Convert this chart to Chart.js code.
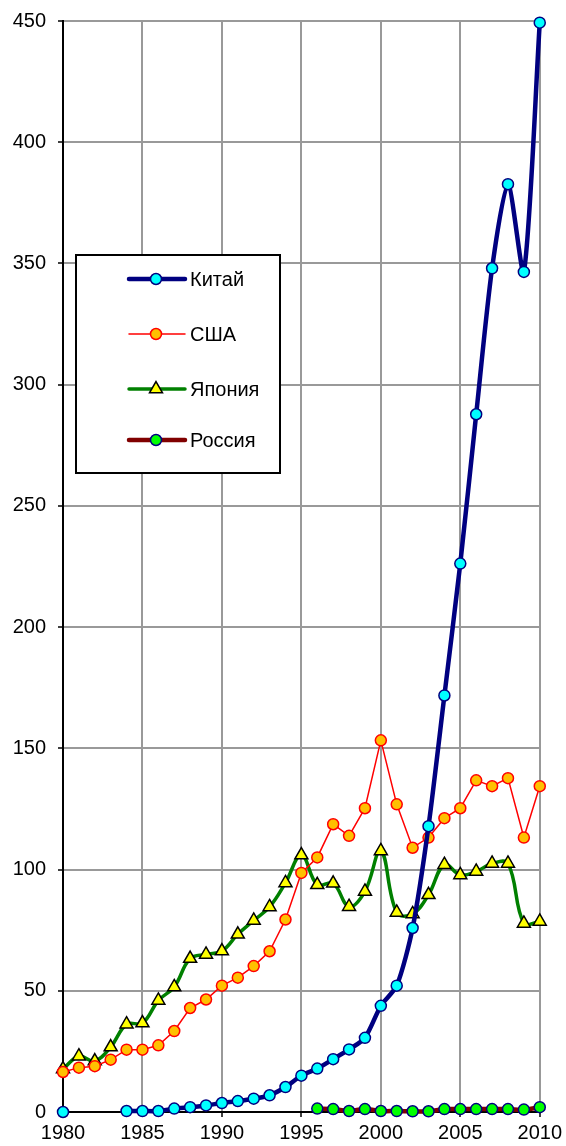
<!DOCTYPE html>
<html lang="ru">
<head>
    <meta charset="UTF-8">
    <title>Chart</title>
    <style>
        body { margin: 0; background: #fff; }
        #wrap { width: 566px; height: 1146px; }
    </style>
</head>
<body>
    <div id="wrap">
        <canvas id="chart" width="566" height="1146"></canvas>
    </div>

    <script src="https://cdn.jsdelivr.net/npm/chart.js"></script>
<script>
    const years = [1980, 1981, 1982, 1983, 1984, 1985, 1986, 1987, 1988, 1989,
                   1990, 1991, 1992, 1993, 1994, 1995, 1996, 1997, 1998, 1999,
                   2000, 2001, 2002, 2003, 2004, 2005, 2006, 2007, 2008, 2009, 2010];

    const china = [0, null, null, null, 0.4, 0.4, 0.4, 1.4, 2, 2.7,
                   3.7, 4.5, 5.5, 6.9, 10.3, 15, 17.9, 21.8, 25.8, 30.6,
                   43.8, 52.1, 75.9, 117.9, 171.8, 226.2, 287.8, 348, 382.7, 346.5, 449.3];

    const usa = [16.5, 18.3, 18.9, 21.6, 25.7, 25.7, 27.5, 33.4, 42.9, 46.4,
                 52.1, 55.4, 60.2, 66.3, 79.4, 98.6, 105, 118.7, 113.9, 125.3,
                 153.3, 126.9, 109, 113.2, 121.2, 125.3, 136.8, 134.4, 137.7, 113.2, 134.4];

    const japan = [17.7, 23, 21, 26.8, 36.2, 36.7, 46, 51.6, 63.3, 65,
                   66.4, 73.3, 79, 84.6, 94.5, 106, 93.7, 94.3, 84.7, 91,
                   107.7, 82.3, 81.7, 89.6, 102, 97.8, 99.2, 102.5, 102.5, 77.8, 78.6];

    const russia = [null, null, null, null, null, null, null, null, null, null,
                    null, null, null, null, null, null, 1.4, 1.2, 0.4, 1.2,
                    0.4, 0.4, 0.3, 0.3, 1.2, 1.2, 1.2, 1.2, 1.2, 1, 2];

    const seriesNames = ['Китай', 'США', 'Япония', 'Россия'];
    const yTicks = [0, 50, 100, 150, 200, 250, 300, 350, 400, 450];
    const xTicks = [1980, 1985, 1990, 1995, 2000, 2005, 2010];

    const FONT = { family: '"Liberation Sans", Arial, sans-serif', size: 20 };

    // pair up years with values for the linear x axis
    function toPoints(values) {
        return years.map((yr, i) => ({ x: yr, y: values[i] }));
    }

    // legend drawn inside the plot, like the original
    const boxLegend = {
        id: 'boxLegend',
        afterDraw(chart) {
            const ctx = chart.ctx;
            const left = 76, top = 255, width = 204, height = 218;
            const rows = [279, 334, 389, 440];

            ctx.save();
            ctx.fillStyle = '#fff';
            ctx.fillRect(left, top, width, height);
            ctx.lineWidth = 2;
            ctx.strokeStyle = '#000';
            ctx.strokeRect(left, top, width, height);

            chart.data.datasets.forEach((ds, i) => {
                const y = rows[i];
                ctx.beginPath();
                ctx.lineWidth = ds.borderWidth;
                ctx.strokeStyle = ds.borderColor;
                ctx.lineCap = 'round';
                ctx.moveTo(129, y);
                ctx.lineTo(185, y);
                ctx.stroke();

                ctx.fillStyle = ds.pointBackgroundColor;
                ctx.strokeStyle = ds.pointBorderColor;
                ctx.lineWidth = ds.pointBorderWidth;
                Chart.helpers.drawPoint(ctx, {
                    pointStyle: ds.pointStyle || 'circle',
                    radius: ds.pointRadius,
                    rotation: 0,
                    borderWidth: ds.pointBorderWidth
                }, 156, y);

                ctx.fillStyle = '#000';
                ctx.font = '20px ' + FONT.family;
                ctx.textBaseline = 'middle';
                ctx.textAlign = 'left';
                ctx.fillText(ds.label, 190, y + 1);
            });
            ctx.restore();
        }
    };

    const ctx = document.getElementById('chart').getContext('2d');
    const chart = new Chart(ctx, {
        type: 'line',
        data: {
            datasets: [{
                label: seriesNames[0],
                data: toPoints(china),
                borderColor: '#000080',
                borderWidth: 4.5,
                tension: 0.25,
                clip: false,
                pointRadius: 5.5,
                pointBackgroundColor: '#00ffff',
                pointBorderColor: '#000080',
                pointBorderWidth: 1.5
            }, {
                label: seriesNames[1],
                data: toPoints(usa),
                borderColor: '#ff0000',
                borderWidth: 1.5,
                tension: 0,
                clip: false,
                pointRadius: 5.5,
                pointBackgroundColor: '#ffc000',
                pointBorderColor: '#ff0000',
                pointBorderWidth: 1.5
            }, {
                label: seriesNames[2],
                data: toPoints(japan),
                borderColor: '#008000',
                borderWidth: 3.5,
                tension: 0.4,
                clip: false,
                pointStyle: 'triangle',
                pointRadius: 7.5,
                pointBackgroundColor: '#ffff00',
                pointBorderColor: '#000000',
                pointBorderWidth: 1.5
            }, {
                label: seriesNames[3],
                data: toPoints(russia),
                borderColor: '#800000',
                borderWidth: 4.5,
                tension: 0.4,
                clip: false,
                pointRadius: 5.5,
                pointBackgroundColor: '#00ff00',
                pointBorderColor: '#000080',
                pointBorderWidth: 1.5
            }]
        },
        options: {
            responsive: false,
            animation: false,
            spanGaps: false,
            layout: { padding: { top: 21, right: 26, left: 0, bottom: 0 } },
            plugins: {
                legend: { display: false },
                tooltip: { enabled: false }
            },
            scales: {
                x: {
                    type: 'linear',
                    min: 1980,
                    max: 2010,
                    afterFit: s => { s.height = 34; },
                    afterBuildTicks: s => { s.ticks = xTicks.map(v => ({ value: v })); },
                    ticks: {
                        color: '#000',
                        font: FONT,
                        padding: 4,
                        maxRotation: 0,
                        callback: v => String(v)
                    },
                    grid: { color: '#999', lineWidth: 2, tickLength: 5, tickColor: '#000', tickWidth: 1.5 },
                    border: { display: true, color: '#000', width: 2 }
                },
                y: {
                    min: 0,
                    max: 450,
                    // fixed axis width, and no extra room reserved above/below
                    afterFit: s => { s.width = 63; s.paddingTop = 0; s.paddingBottom = 0; },
                    afterBuildTicks: s => { s.ticks = yTicks.map(v => ({ value: v })); },
                    ticks: {
                        color: '#000',
                        font: FONT,
                        padding: 12
                    },
                    grid: { color: '#999', lineWidth: 2, tickLength: 5, tickColor: '#000', tickWidth: 1.5 },
                    border: { display: true, color: '#000', width: 2 }
                }
            }
        },
        plugins: [boxLegend]
    });
</script>
</body>
</html>
